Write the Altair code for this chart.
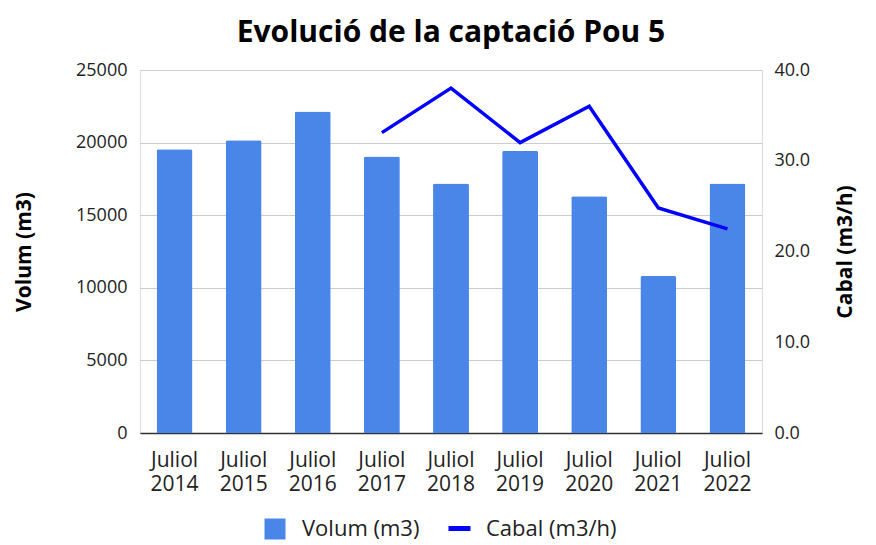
import altair as alt
import pandas as pd

categories = ["Juliol 2014", "Juliol 2015", "Juliol 2016", "Juliol 2017", "Juliol 2018",
              "Juliol 2019", "Juliol 2020", "Juliol 2021", "Juliol 2022"]
volum = [19550, 20170, 22150, 19050, 17190, 19430, 16310, 10810, 17190]
cabal = [None, None, None, 33.1, 38.0, 32.0, 36.0, 24.8, 22.5]

df = pd.DataFrame({"cat": categories, "volum": volum, "cabal": cabal})

FONT = "Open Sans"
TXT = "#222222"

x = alt.X("cat:N", sort=categories, title=None,
          scale=alt.Scale(paddingInner=0.48, paddingOuter=0.24),
          axis=alt.Axis(labelAngle=0, labelExpr="split(datum.label, ' ')",
                        labelFontSize=21, labelColor=TXT, labelPadding=16,
                        ticks=False, domainColor="#333", domainWidth=1.5,
                        labelFont=FONT, labelLineHeight=24))

bars = alt.Chart(df).mark_bar(cornerRadiusTopLeft=2, cornerRadiusTopRight=2).encode(
    x=x,
    y=alt.Y("volum:Q", title="Volum (m3)",
            scale=alt.Scale(domain=[0, 25000]),
            axis=alt.Axis(values=[0, 5000, 10000, 15000, 20000, 25000], format="d",
                          labelFontSize=18, labelColor=TXT, labelFont=FONT,
                          titleFontSize=21, titleFont=FONT, titleFontWeight="bold",
                          titleColor="#000", titlePadding=41,
                          ticks=False, domain=False, gridColor="#cccccc", labelPadding=13)),
    fill=alt.Fill("series:N", scale=alt.Scale(domain=["Volum (m3)"], range=["#4a86e8"]),
                  legend=alt.Legend(title=None, orient="none", legendX=124, legendY=448,
                                    symbolType="square", symbolSize=441,
                                    labelFontSize=22, labelFont=FONT, labelOffset=16,
                                    labelColor=TXT, symbolStrokeWidth=0)),
).transform_calculate(series="'Volum (m3)'")

line = alt.Chart(df).mark_line(strokeWidth=3.5).encode(
    x=x,
    y=alt.Y("cabal:Q", title="Cabal (m3/h)",
            scale=alt.Scale(domain=[0, 40]),
            axis=alt.Axis(values=[0, 10, 20, 30, 40], format=".1f", orient="right",
                          labelFontSize=18, labelColor=TXT, labelFont=FONT,
                          titleFontSize=21, titleFont=FONT, titleFontWeight="bold",
                          titleColor="#000", titlePadding=46, titleAngle=270,
                          ticks=False, domain=False, grid=False, labelPadding=12)),
    stroke=alt.Stroke("series2:N", scale=alt.Scale(domain=["Cabal (m3/h)"], range=["#0000ff"]),
                      legend=alt.Legend(title=None, orient="none", legendX=306, legendY=445,
                                        symbolType="stroke", symbolStrokeWidth=5,
                                        symbolSize=484, labelOffset=13,
                                        labelFontSize=22, labelFont=FONT, labelColor=TXT)),
).transform_filter("datum.cabal != null").transform_calculate(series2="'Cabal (m3/h)'")

chart = alt.layer(bars, line).resolve_scale(y="independent").properties(
    width=622, height=363,
    padding={"left": 5, "top": 10, "right": 4, "bottom": 5},
    title=alt.Title("Evolució de la captació Pou 5", fontSize=30, font=FONT,
                    fontWeight="bold", color="#000", offset=13),
).configure_view(stroke=None).configure(background="white")

chart.save("out.html", embed_options={"renderer": "svg", "actions": False})
